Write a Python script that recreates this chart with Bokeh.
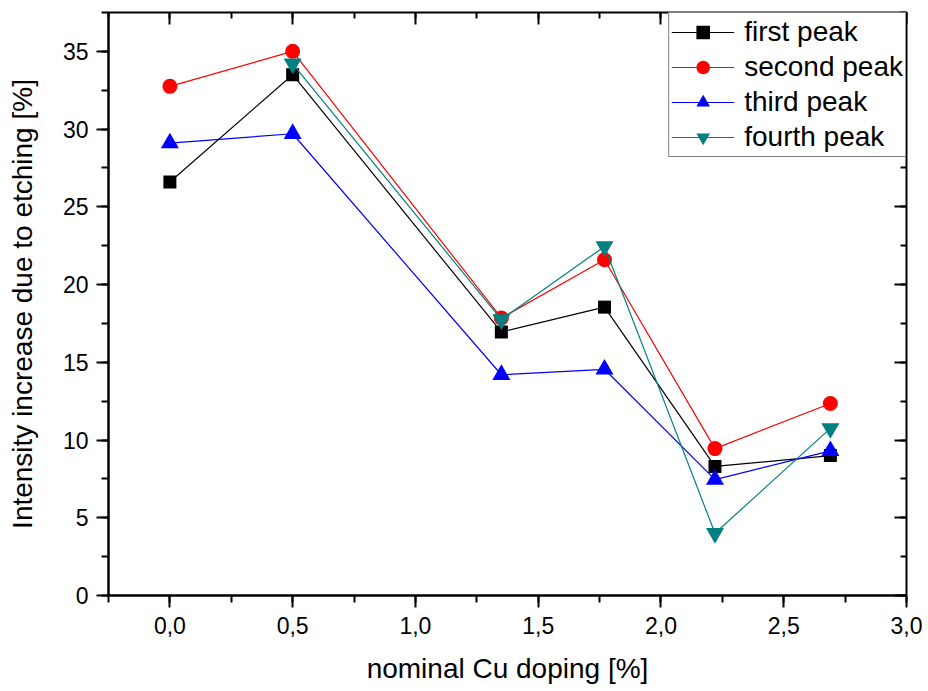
from bokeh.plotting import figure
from bokeh.models import (Range1d, LinearAxis, SingleIntervalTicker,
                          CustomJSTickFormatter, Legend, LegendItem)
from bokeh.embed import file_html
from bokeh.resources import INLINE

# Cu doping levels [%] and relative intensity increase after etching [%]
doping = [0.0, 0.5, 1.35, 1.77, 2.22, 2.69]
first_peak = [26.6, 33.5, 16.95, 18.55, 8.3, 9.0]
second_peak = [32.75, 35.0, 17.85, 21.6, 9.45, 12.35]
third_peak = [29.1, 29.7, 14.2, 14.55, 7.45, 9.3]
fourth_doping = [0.5, 1.35, 1.77, 2.22, 2.69]
fourth_peak = [34.2, 17.75, 22.45, 4.0, 10.75]

x_ticks_interval = 0.5
y_ticks_interval = 5

FONT = "Liberation Sans"

p = figure(width=928, height=691, output_backend="svg", toolbar_location=None,
           x_range=Range1d(-0.25, 3.0), y_range=Range1d(0, 37.5),
           min_border_left=108, min_border_right=22,
           min_border_top=12, min_border_bottom=96)
p.xgrid.visible = False
p.ygrid.visible = False
p.outline_line_color = "black"
p.outline_line_width = 2
p.background_fill_color = "white"
p.border_fill_color = "white"

x_fmt = CustomJSTickFormatter(code="return tick.toFixed(1).replace('.', ',');")

def style_axis(ax, label_size="23px"):
    ax.axis_line_width = 2
    ax.axis_line_color = "black"
    ax.major_tick_line_width = 2
    ax.minor_tick_line_width = 2
    ax.major_tick_line_color = "black"
    ax.minor_tick_line_color = "black"
    ax.major_label_text_font = FONT
    ax.major_label_text_font_size = label_size
    ax.major_label_text_color = "black"
    ax.axis_label_text_font = FONT
    ax.axis_label_text_font_size = "28px"
    ax.axis_label_text_font_style = "normal"
    ax.axis_label_text_color = "black"

xa = p.xaxis[0]
xa.ticker = SingleIntervalTicker(interval=x_ticks_interval, num_minor_ticks=2)
xa.formatter = x_fmt
style_axis(xa)
xa.major_tick_out = 12
xa.major_tick_in = 0
xa.minor_tick_out = 7
xa.minor_tick_in = 0
xa.major_label_standoff = 9
xa.axis_label = "nominal Cu doping [%]"
xa.axis_label_standoff = 16

ya = p.yaxis[0]
ya.ticker = SingleIntervalTicker(interval=y_ticks_interval, num_minor_ticks=2)
style_axis(ya)
ya.major_tick_out = 12
ya.major_tick_in = 0
ya.minor_tick_out = 7
ya.minor_tick_in = 0
ya.major_label_standoff = 8
ya.axis_label = "Intensity increase due to etching [%]"
ya.axis_label_standoff = 22

# mirrored axes with inward ticks and no labels
top = LinearAxis(ticker=SingleIntervalTicker(interval=x_ticks_interval, num_minor_ticks=2))
right = LinearAxis(ticker=SingleIntervalTicker(interval=y_ticks_interval, num_minor_ticks=2))
for ax in (top, right):
    style_axis(ax, label_size="0px")
    ax.major_tick_out = 0
    ax.minor_tick_out = 0
    ax.major_tick_in = 12
    ax.minor_tick_in = 6
    ax.major_label_standoff = 0
    ax.axis_line_color = None
    ax.major_label_text_alpha = 0
p.add_layout(top, "above")
p.add_layout(right, "right")

series = [
    ("first peak", doping, first_peak, "black", "square", 13),
    ("second peak", doping, second_peak, "#ff0000", "circle", 15),
    ("third peak", doping, third_peak, "#0000ff", "triangle", 18),
    ("fourth peak", fourth_doping, fourth_peak, "#008080", "inverted_triangle", 18),
]

items = []
for name, xs, ys, color, marker, size in series:
    ln = p.line(xs, ys, line_color=color, line_width=1.2)
    sc = p.scatter(xs, ys, marker=marker, size=size, fill_color=color,
                   line_color=color, line_width=0)
    items.append(LegendItem(label=name, renderers=[ln, sc]))

legend = Legend(items=items, location="top_right", margin=0,
                border_line_color="black", border_line_width=1.5,
                background_fill_alpha=1.0, padding=2, spacing=1,
                glyph_width=63, glyph_height=34, label_height=34,
                label_standoff=10, label_text_font=FONT,
                label_text_font_size="28px", label_text_color="black")
p.add_layout(legend)

open("out.html", "w").write(file_html(p, INLINE))
